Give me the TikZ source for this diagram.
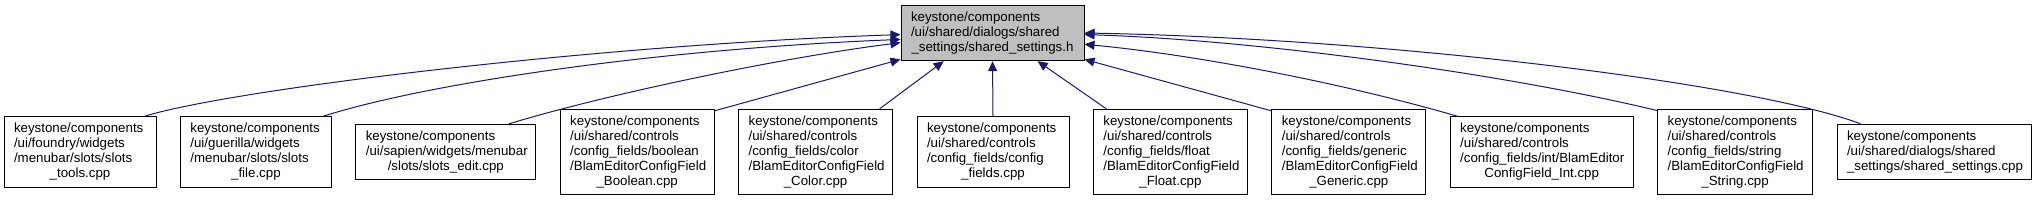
\documentclass[tikz,border=0pt]{standalone}
\usepackage{fontspec}
\setmainfont{Liberation Sans}
\usepackage{xcolor}
\usepackage{tikz}
\usetikzlibrary{arrows.meta,positioning}
\definecolor{edgeblue}{HTML}{191970}
\definecolor{headgray}{HTML}{BFBFBF}
\newcommand{\tailline}[1]{\hspace*{\fill}#1\hspace*{\fill}}
\tikzset{
  source/.style={
    rectangle,
    draw=black,
    fill=white,
    line width=1pt,
    text width=#1,
    inner xsep=10pt,
    inner ysep=6.5pt,
    align=left,
    font=\fontsize{13.3}{15}\selectfont
  },
  header/.style={
    source=#1,
    fill=headgray
  },
  dep/.style={-{Triangle[length=10pt,width=9pt]}, line width=1pt, draw=edgeblue}
}
\begin{document}
\begin{tikzpicture}[x=1pt, y=1pt, node distance=0cm and 23.4pt]

\useasboundingbox (0,0) rectangle (2039,-200);

\node[header=163pt] (shared) at (992.5,-33) {
keystone/components\\
/ui/shared/dialogs/shared\\
\tailline{\_settings/shared\_settings.h}
};

\node[source=132pt] (slotstools) at (80,-152) {
keystone/components\\
/ui/foundry/widgets\\
/menubar/slots/slots\\
\tailline{\_tools.cpp}
};

\node[source=131pt, right=of slotstools] (slotsfile) {
keystone/components\\
/ui/guerilla/widgets\\
/menubar/slots/slots\\
\tailline{\_file.cpp}
};

\node[source=160pt, right=of slotsfile] (slotsedit) {
keystone/components\\
/ui/sapien/widgets/menubar\\
\tailline{/slots/slots\_edit.cpp}
};

\node[source=134pt, right=of slotsedit] (cfboolean) {
keystone/components\\
/ui/shared/controls\\
/config\_fields/boolean\\
/BlamEditorConfigField\\
\tailline{\_Boolean.cpp}
};

\node[source=134pt, right=of cfboolean] (cfcolor) {
keystone/components\\
/ui/shared/controls\\
/config\_fields/color\\
/BlamEditorConfigField\\
\tailline{\_Color.cpp}
};

\node[source=132pt, right=of cfcolor] (cffields) {
keystone/components\\
/ui/shared/controls\\
/config\_fields/config\\
\tailline{\_fields.cpp}
};

\node[source=134pt, right=of cffields] (cffloat) {
keystone/components\\
/ui/shared/controls\\
/config\_fields/float\\
/BlamEditorConfigField\\
\tailline{\_Float.cpp}
};

\node[source=134pt, right=of cffloat] (cfgeneric) {
keystone/components\\
/ui/shared/controls\\
/config\_fields/generic\\
/BlamEditorConfigField\\
\tailline{\_Generic.cpp}
};

\node[source=163pt, right=of cfgeneric] (cfint) {
keystone/components\\
/ui/shared/controls\\
/config\_fields/int/BlamEditor\\
\tailline{ConfigField\_Int.cpp}
};

\node[source=135pt, right=of cfint] (cfstring) {
keystone/components\\
/ui/shared/controls\\
/config\_fields/string\\
/BlamEditorConfigField\\
\tailline{\_String.cpp}
};

\node[source=174pt, right=of cfstring] (settingscpp) {
keystone/components\\
/ui/shared/dialogs/shared\\
\tailline{\_settings/shared\_settings.cpp}
};

\draw[dep] (slotstools.29) .. controls +(87,27) and +(-300,-10) .. (shared.181);
\draw[dep] (slotsfile.28) .. controls +(100,32) and +(-250,-10) .. (shared.184);
\draw[dep] (slotsedit.24) .. controls +(95,29) and +(-120,-15) .. (shared.186);
\draw[dep] (cfboolean.28) -- (shared.196);
\draw[dep] (cfcolor.34) -- (shared.210);
\draw[dep] (cffields.north) -- (shared.south);
\draw[dep] (cffloat.146) -- (shared.328);
\draw[dep] (cfgeneric.152) -- (shared.344);
\draw[dep] (cfint.157) .. controls +(-110,32) and +(116,-11) .. (shared.353);
\draw[dep] (cfstring.152) .. controls +(-158,38) and +(166,-5) .. (shared.359);
\draw[dep] (settingscpp.159) .. controls +(-103,39) and +(316,-6) .. (shared.0);

\end{tikzpicture}
\end{document}
